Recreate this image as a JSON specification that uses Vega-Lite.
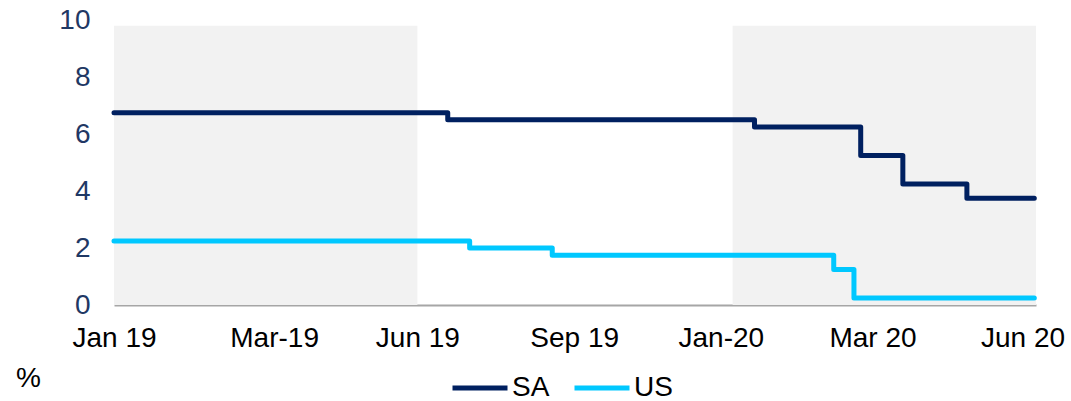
{
  "$schema": "https://vega.github.io/schema/vega-lite/v6.json",
  "width": 922,
  "height": 285,
  "autosize": {"type": "none"},
  "padding": {"left": 114, "top": 20, "right": 35, "bottom": 96},
  "config": {
    "view": {"stroke": null},
    "font": "Liberation Sans"
  },
  "datasets": {
    "shade": [
      {"start": "2019-01-01", "end": "2019-06-30", "top": 9.8, "bottom": 0},
      {"start": "2020-01-03", "end": "2020-07-01", "top": 9.8, "bottom": 0}
    ],
    "rates": [
      {"date": "2019-01-01", "series": "SA", "rate": 6.75},
      {"date": "2019-07-18", "series": "SA", "rate": 6.5},
      {"date": "2020-01-16", "series": "SA", "rate": 6.25},
      {"date": "2020-03-19", "series": "SA", "rate": 5.25},
      {"date": "2020-04-13", "series": "SA", "rate": 4.25},
      {"date": "2020-05-21", "series": "SA", "rate": 3.75},
      {"date": "2020-06-30", "series": "SA", "rate": 3.75},
      {"date": "2019-01-01", "series": "US", "rate": 2.25},
      {"date": "2019-07-31", "series": "US", "rate": 2.0},
      {"date": "2019-09-18", "series": "US", "rate": 1.75},
      {"date": "2020-03-03", "series": "US", "rate": 1.25},
      {"date": "2020-03-15", "series": "US", "rate": 0.25},
      {"date": "2020-06-30", "series": "US", "rate": 0.25}
    ]
  },
  "layer": [
    {
      "data": {"name": "shade"},
      "mark": {"type": "rect", "color": "#F2F2F2"},
      "encoding": {
        "x": {
          "field": "start",
          "type": "temporal",
          "scale": {
            "type": "utc",
            "domain": [
              {"year": 2019, "month": 1, "date": 1, "utc": true},
              {"year": 2020, "month": 7, "date": 1, "utc": true}
            ]
          },
          "axis": {
            "title": null,
            "values": [
              {"year": 2019, "month": 1, "date": 1, "utc": true},
              {"year": 2019, "month": 4, "date": 6, "utc": true},
              {"year": 2019, "month": 6, "date": 30, "utc": true},
              {"year": 2019, "month": 10, "date": 1, "utc": true},
              {"year": 2019, "month": 12, "date": 27, "utc": true},
              {"year": 2020, "month": 3, "date": 26, "utc": true},
              {"year": 2020, "month": 6, "date": 23, "utc": true}
            ],
            "labelExpr": "utcyear(datum.value) == 2019 ? (utcmonth(datum.value) == 0 ? 'Jan 19' : utcmonth(datum.value) == 3 ? 'Mar-19' : utcmonth(datum.value) == 5 ? 'Jun 19' : utcmonth(datum.value) == 9 ? 'Sep 19' : 'Jan-20') : (utcmonth(datum.value) == 2 ? 'Mar 20' : 'Jun 20')",
            "grid": false,
            "ticks": false,
            "tickSize": 0,
            "domain": true,
            "domainColor": "#A6A6A6",
            "domainWidth": 2,
            "labelFontSize": 28,
            "labelColor": "#000000",
            "labelBaseline": "middle",
            "labelPadding": 33,
            "labelFlush": false,
            "labelBound": false,
            "labelOverlap": false
          }
        },
        "x2": {"field": "end"},
        "y": {
          "field": "top",
          "type": "quantitative",
          "scale": {"domain": [0, 10], "nice": false, "zero": true},
          "axis": {
            "title": "%",
            "titleAngle": 0,
            "titleX": -86,
            "titleY": 358,
            "titleAlign": "center",
            "titleBaseline": "middle",
            "titleFontSize": 28,
            "titleFontWeight": "normal",
            "titleColor": "#000000",
            "values": [0, 2, 4, 6, 8, 10],
            "grid": false,
            "ticks": false,
            "tickSize": 0,
            "domain": false,
            "labelFontSize": 28,
            "labelColor": "#1F3864",
            "labelPadding": 24
          }
        },
        "y2": {"field": "bottom"}
      }
    },
    {
      "data": {"name": "rates"},
      "mark": {
        "type": "line",
        "interpolate": "step-after",
        "strokeWidth": 5,
        "strokeCap": "round",
        "strokeJoin": "round"
      },
      "encoding": {
        "x": {"field": "date", "type": "temporal", "title": null},
        "y": {"field": "rate", "type": "quantitative"},
        "color": {
          "field": "series",
          "type": "nominal",
          "scale": {"domain": ["SA", "US"], "range": ["#002060", "#00C8FF"]},
          "legend": {
            "title": null,
            "orient": "none",
            "legendX": 336,
            "legendY": 355,
            "direction": "horizontal",
            "padding": 0,
            "clipHeight": 26,
            "symbolType": "stroke",
            "symbolSize": 3025,
            "symbolStrokeWidth": 5,
            "labelFontSize": 28,
            "labelColor": "#000000",
            "labelOffset": 2,
            "columnPadding": 22
          }
        }
      }
    }
  ]
}
